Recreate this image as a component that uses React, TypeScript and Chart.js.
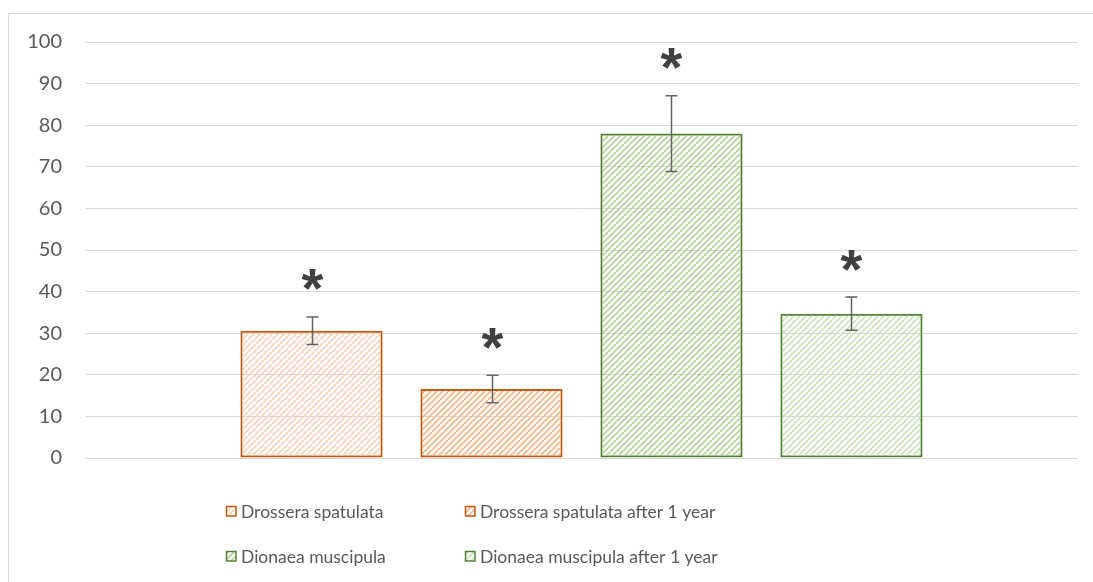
import React, { useEffect, useRef } from 'react';
import { Chart, registerables } from 'chart.js';

Chart.register(...registerables);

const categories = [''];
const seriesNames = [
  'Drossera spatulata',
  'Drossera spatulata after 1 year',
  'Dionaea muscipula',
  'Dionaea muscipula after 1 year',
];
const meanValues = [30.6, 16.6, 78.0, 34.7];
const errorValues = [3.3, 3.3, 9.1, 4.0];
const significanceMarks = ['*', '*', '*', '*'];
const yMin = 0;
const yMax = 100;
const yStep = 10;

const borderColors = ['#C55A11', '#C55A11', '#548235', '#548235'];
const hatchColors = ['#F9CDB0', '#F4AD7C', '#A6D08A', '#C4E2B0'];

const W = 1093;
const H = 582;

function makeHatch(ctx: CanvasRenderingContext2D, color: string) {
  const c = document.createElement('canvas');
  c.width = 6;
  c.height = 6;
  const g = c.getContext('2d') as CanvasRenderingContext2D;
  g.strokeStyle = color;
  g.lineWidth = 1.5;
  g.beginPath();
  g.moveTo(-1, 7);
  g.lineTo(7, -1);
  g.moveTo(-4, 4);
  g.lineTo(4, -4);
  g.moveTo(2, 10);
  g.lineTo(10, 2);
  g.stroke();
  return ctx.createPattern(c, 'repeat') as CanvasPattern;
}

const legendFont = '17.5px Lato, "Open Sans", sans-serif';

const frameAndExtras = {
  id: 'frameAndExtras',
  beforeDraw(chart: any) {
    const ctx = chart.ctx;
    ctx.save();
    ctx.fillStyle = '#ffffff';
    ctx.fillRect(0, 0, W, H);
    ctx.strokeStyle = '#d9d9d9';
    ctx.lineWidth = 1;
    ctx.beginPath();
    ctx.moveTo(8.5, H);
    ctx.lineTo(8.5, 13.5);
    ctx.lineTo(W, 13.5);
    ctx.stroke();
    ctx.restore();
  },
  afterDatasetsDraw(chart: any) {
    const ctx = chart.ctx;
    const y = chart.scales.y;
    ctx.save();
    chart.data.datasets.forEach((ds: any, i: number) => {
      const meta = chart.getDatasetMeta(i);
      const el = meta.data[0];
      if (!el) return;
      const x = Math.round(el.x) + 0.5;
      const mean = meanValues[i];
      const err = errorValues[i];
      const yTop = y.getPixelForValue(mean + err);
      const yBot = y.getPixelForValue(mean - err);
      ctx.strokeStyle = '#636363';
      ctx.lineWidth = 1.5;
      ctx.beginPath();
      ctx.moveTo(x, yTop);
      ctx.lineTo(x, yBot);
      ctx.moveTo(x - 6, yTop);
      ctx.lineTo(x + 6, yTop);
      ctx.moveTo(x - 6, yBot);
      ctx.lineTo(x + 6, yBot);
      ctx.stroke();

      const mark = significanceMarks[i];
      if (mark) {
        ctx.fillStyle = '#404040';
        ctx.font = 'bold 56px "Liberation Sans", Arial, sans-serif';
        ctx.textAlign = 'center';
        ctx.textBaseline = 'alphabetic';
        const m = ctx.measureText(mark);
        const cy = yTop - 37;
        const asc = m.actualBoundingBoxAscent;
        const desc = m.actualBoundingBoxDescent;
        ctx.fillText(mark, x, cy + (asc - desc) / 2);
      }
    });
    ctx.restore();
  },
  afterDraw(chart: any) {
    const ctx = chart.ctx;
    ctx.save();
    const cols = [226, 465];
    const rows = [511, 556];
    chart.data.datasets.forEach((ds: any, i: number) => {
      const bx = cols[i % 2];
      const cy = rows[Math.floor(i / 2)];
      ctx.fillStyle = ds.backgroundColor;
      ctx.fillRect(bx, cy - 5, 10, 10);
      ctx.strokeStyle = ds.borderColor;
      ctx.lineWidth = 1.5;
      ctx.strokeRect(bx + 0.5, cy - 4.5, 9.5, 9.5);
      ctx.fillStyle = '#595959';
      ctx.font = legendFont;
      ctx.textAlign = 'left';
      ctx.textBaseline = 'middle';
      ctx.fillText(ds.label, bx + 15, cy + 1);
    });
    ctx.restore();
  },
};

export default function App() {
  const ref = useRef<HTMLCanvasElement | null>(null);

  useEffect(() => {
    const canvas = ref.current;
    if (!canvas) return;
    const ctx = canvas.getContext('2d') as CanvasRenderingContext2D;
    const datasets = seriesNames.map((name, i) => ({
      label: name,
      data: [meanValues[i]],
      backgroundColor: makeHatch(ctx, hatchColors[i]),
      borderColor: borderColors[i],
      borderWidth: 2,
      borderSkipped: false,
      categoryPercentage: 0.725,
      barPercentage: 0.79,
    }));
    const chart = new Chart(canvas, {
      type: 'bar',
      data: { labels: categories, datasets },
      options: {
        responsive: false,
        animation: false,
        devicePixelRatio: 1,
        layout: { padding: { left: 0, right: 15, top: 42, bottom: 124 } },
        plugins: {
          legend: { display: false },
          tooltip: { enabled: false },
        },
        scales: {
          x: {
            display: false,
            grid: { display: false },
          },
          y: {
            min: yMin,
            max: yMax,
            border: { display: false },
            grid: { color: '#d9d9d9', lineWidth: 1, drawTicks: false },
            ticks: {
              stepSize: yStep,
              padding: 23,
              color: '#595959',
              font: { family: 'Lato, "Open Sans", sans-serif', size: 20 },
            },
            afterFit(scale: any) {
              scale.width = 85;
            },
          },
        },
      },
      plugins: [frameAndExtras],
    } as any);
    return () => chart.destroy();
  }, []);

  return (
    <div style={{ position: 'fixed', left: 0, top: 0, width: W, height: H, background: '#fff' }}>
      <canvas ref={ref} width={W} height={H} style={{ display: 'block', width: W, height: H }} />
    </div>
  );
}
